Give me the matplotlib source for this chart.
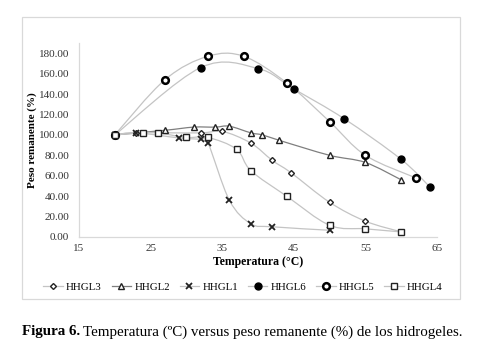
import numpy as np
import matplotlib
matplotlib.use("Agg")
import matplotlib.pyplot as plt
from matplotlib.path import Path
from matplotlib.patches import PathPatch, Rectangle
from matplotlib.lines import Line2D

plt.rcParams['font.family'] = ['Liberation Serif', 'DejaVu Serif']

# ---- data ----
hhgl3_x = [20, 23, 32, 35, 39, 42, 44.6, 50, 55, 60]
hhgl3_y = [100, 102, 102, 103.5, 92, 75, 63, 34, 15.5, 5]
hhgl2_x = [20, 27, 31, 34, 36, 39, 40.6, 43, 50, 55, 60]
hhgl2_y = [100, 104.5, 107.6, 107.6, 108.5, 102, 100, 94.6, 80, 73, 56]
hhgl1_x = [20, 23, 29, 32, 33, 36, 39, 42, 50]
hhgl1_y = [100, 102, 97, 95.5, 92.5, 36, 13, 10, 6.6]
hhgl6_x = [20, 32, 40, 45, 52, 60, 64]
hhgl6_y = [100, 166, 165, 145, 116, 76, 49]
hhgl5_x = [20, 27, 33, 38, 44, 50, 55, 62]
hhgl5_y = [100, 154, 177, 177, 151, 113, 80, 58]
hhgl4_x = [20, 24, 26, 30, 33, 37, 39, 44, 50, 55, 60]
hhgl4_y = [100, 102, 102, 97.5, 97.5, 86, 65, 40, 11.5, 8, 5]

x_ticks = [15, 25, 35, 45, 55, 65]
y_ticks = [0, 20, 40, 60, 80, 100, 120, 140, 160, 180]

W, H = 479, 349
fig = plt.figure(figsize=(W / 100, H / 100), dpi=100)

# chart frame
fig.patches.append(Rectangle((22 / W, 1 - 299 / H), (460 - 22) / W, (299 - 17) / H,
                             transform=fig.transFigure, fill=False,
                             edgecolor='#d9d9d9', linewidth=0.9))

ax = fig.add_axes([79 / W, 1 - 237 / H, (437 - 79) / W, (237 - 43) / H])
ax.set_xlim(15, 65)
ax.set_ylim(0, 190)
ax.set_xticks(x_ticks)
ax.set_yticks(y_ticks)
ax.set_yticklabels([f"{v:.2f}" for v in y_ticks])
ax.tick_params(length=0, labelsize=8, labelcolor='#333333')
ax.tick_params(axis='y', pad=7)
ax.tick_params(axis='x', pad=5)
for s in ['top', 'right']:
    ax.spines[s].set_visible(False)
for s in ['left', 'bottom']:
    ax.spines[s].set_color('#d9d9d9')
    ax.spines[s].set_linewidth(0.9)
ax.set_xlabel('Temperatura (°C)', fontsize=8.5, fontweight='bold', labelpad=2)
ax.set_ylabel('Peso remanente (%)', fontsize=8, fontweight='bold')
ax.yaxis.set_label_coords(-0.118, 0.5)


def smooth_path(xs, ys):
    p = np.column_stack([xs, ys]).astype(float)
    n = len(p)
    verts = [p[0]]
    codes = [Path.MOVETO]
    for i in range(n - 1):
        p0 = p[i - 1] if i > 0 else p[i]
        p1 = p[i]
        p2 = p[i + 1]
        p3 = p[i + 2] if i + 2 < n else p[i + 1]
        c1 = p1 + (p2 - p0) / 6.0
        c2 = p2 - (p3 - p1) / 6.0
        verts += [c1, c2, p2]
        codes += [Path.CURVE4] * 3
    return Path(verts, codes)


series = [
    ('HHGL3', hhgl3_x, hhgl3_y, dict(marker='D', ms=3.0, mfc='white', mec='#222222', mew=1.0), '#c4c4c4'),
    ('HHGL2', hhgl2_x, hhgl2_y, dict(marker='^', ms=4.2, mfc='white', mec='#222222', mew=1.0), '#7f7f7f'),
    ('HHGL1', hhgl1_x, hhgl1_y, dict(marker='x', ms=4.2, mec='#222222', mew=1.3), '#c4c4c4'),
    ('HHGL6', hhgl6_x, hhgl6_y, dict(marker='o', ms=5.0, mfc='black', mec='black', mew=1.0), '#c4c4c4'),
    ('HHGL5', hhgl5_x, hhgl5_y, dict(marker='o', ms=4.8, mfc='white', mec='black', mew=1.8), '#c4c4c4'),
    ('HHGL4', hhgl4_x, hhgl4_y, dict(marker='s', ms=4.4, mfc='white', mec='#222222', mew=1.0), '#c4c4c4'),
]

handles = []
for name, xs, ys, mk, lc in series:
    ax.add_patch(PathPatch(smooth_path(xs, ys), facecolor='none', edgecolor=lc,
                           linewidth=0.9, transform=ax.transData, zorder=2))
    ax.plot(xs, ys, linestyle='none', zorder=3, **mk)
    handles.append(Line2D([0], [0], color=lc, linewidth=0.9, label=name, **mk))

fig.legend(handles=handles, loc='center', bbox_to_anchor=(243 / W, 1 - 287 / H),
           ncol=6, frameon=False, fontsize=7.8, handlelength=1.8, handletextpad=0.3,
           columnspacing=0.9, borderaxespad=0)

# caption
cap_y = 1 - 332 / H
t1 = fig.text(22 / W, cap_y, 'Figura 6.', fontsize=10.8, fontweight='bold', va='center', ha='left')
fig.canvas.draw()
bb = t1.get_window_extent(renderer=fig.canvas.get_renderer())
fig.text(bb.x1 / W + 3 / W, cap_y,
         'Temperatura (ºC) versus peso remanente (%) de los hidrogeles.',
         fontsize=10.8, va='center', ha='left')

fig.savefig('out.png', dpi=100)
